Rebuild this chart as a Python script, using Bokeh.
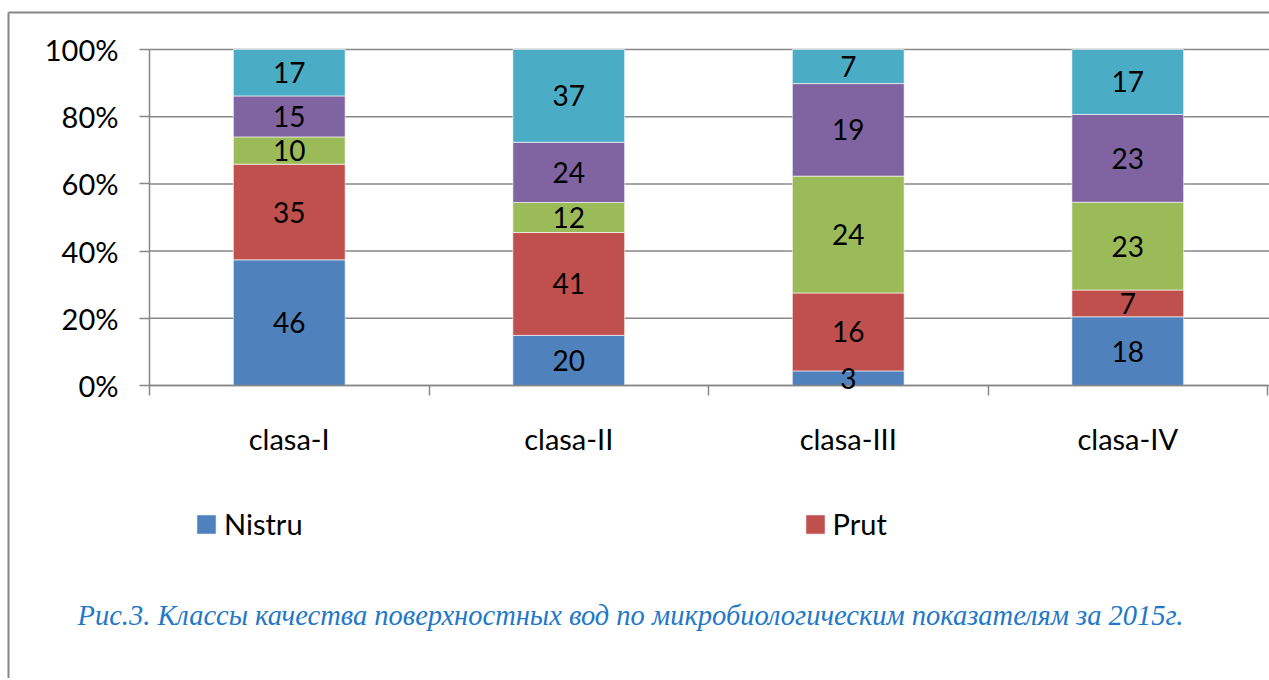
import numpy as np
from bokeh.plotting import figure
from bokeh.core.properties import value
from bokeh.models import (ColumnDataSource, LabelSet, Label, Legend, LegendItem,
                          FixedTicker, NumeralTickFormatter, Range1d)
from bokeh.embed import file_html
from bokeh.resources import INLINE

# ---- data ----
categories = ["clasa-I", "clasa-II", "clasa-III", "clasa-IV"]
nistru = [46, 20, 3, 18]
prut = [35, 41, 16, 7]
seria3 = [10, 12, 24, 23]
seria4 = [15, 24, 19, 23]
seria5 = [17, 37, 7, 17]
series_names = ["Nistru", "Prut", "Seria 3", "Seria 4", "Seria 5"]
colors = ["#4F81BD", "#C0504D", "#9BBB59", "#8064A2", "#4BACC6"]
y_ticks = [0, 0.2, 0.4, 0.6, 0.8, 1.0]
caption = "Рис.3. Классы качества поверхностных вод по микробиологическим показателям за 2015г."

FONT = "Lato"
GRID = "#878787"
FRAME = "#868686"

# ---- layout (canvas pixels, canvas = page) ----
CANVAS_W, CANVAS_H = 1269, 678
PLOT_L, PLOT_R, PLOT_T, PLOT_B = 149, 1267, 49, 385
BOX_X, BOX_Y = 8, 12          # outer chart-area border (left / top)

ncat = len(categories)
ppx = (PLOT_R - PLOT_L) / ncat
ppy = PLOT_B - PLOT_T
x_start = -PLOT_L / ppx
x_end = ncat + (CANVAS_W - PLOT_R) / ppx
y_start = -(CANVAS_H - PLOT_B) / ppy
y_end = 1 + PLOT_T / ppy
box_x = (BOX_X - PLOT_L) / ppx
box_y = 1 + (PLOT_T - BOX_Y) / ppy

series = [nistru, prut, seria3, seria4, seria5]
vals = np.array(series, dtype=float)
totals = vals.sum(axis=0)
fracs = vals / totals
tops = np.cumsum(fracs, axis=0)
bottoms = tops - fracs
xs = np.arange(ncat) + 0.5

p = figure(width=CANVAS_W, height=CANVAS_H, output_backend="svg", toolbar_location=None,
           x_range=Range1d(x_start, x_end), y_range=Range1d(y_start, y_end),
           min_border=0, min_border_left=0, min_border_right=0,
           min_border_top=0, min_border_bottom=0)
p.outline_line_color = None
p.background_fill_color = "white"
p.border_fill_color = "white"
p.xgrid.visible = False
p.ygrid.visible = False

# outer chart-area border (left and top edges visible)
p.segment(x0=[box_x, box_x], y0=[y_start, box_y], x1=[box_x, x_end], y1=[box_y, box_y],
          line_color=FRAME, line_width=2)

# horizontal gridlines from the value axis to the right edge
p.segment(x0=[0] * len(y_ticks), x1=[x_end] * len(y_ticks), y0=y_ticks, y1=y_ticks,
          line_color=GRID, line_width=1.5)

renderers = []
for i, name in enumerate(series_names):
    src = ColumnDataSource(dict(x=xs, top=tops[i], bottom=bottoms[i],
                                mid=(tops[i] + bottoms[i]) / 2,
                                txt=[str(v) for v in series[i]]))
    r = p.vbar(x="x", width=0.4, top="top", bottom="bottom", source=src,
               fill_color=colors[i], line_color="white", line_alpha=0.6, line_width=1)
    renderers.append(r)
    labels = LabelSet(x="x", y="mid", text="txt", source=src, text_align="center",
                      text_baseline="middle", text_font=value(FONT),
                      text_font_size="28px", text_color="black")
    p.add_layout(labels)

# value axis
ya = p.yaxis[0]
ya.fixed_location = 0
ya.bounds = (0, 1)
ya.ticker = FixedTicker(ticks=y_ticks)
ya.formatter = NumeralTickFormatter(format="0%")
ya.major_label_text_font = FONT
ya.major_label_text_font_size = "29px"
ya.major_label_text_color = "black"
ya.major_tick_out = 10
ya.major_tick_in = 0
ya.minor_tick_line_color = None
ya.major_tick_line_color = GRID
ya.major_tick_line_width = 1.5
ya.axis_line_color = GRID
ya.axis_line_width = 1.5
ya.major_label_standoff = 21

# category axis
xa = p.xaxis[0]
xa.fixed_location = 0
xa.bounds = (0, ncat)
xa.ticker = FixedTicker(ticks=list(xs), minor_ticks=list(range(ncat + 1)))
xa.major_label_overrides = {float(x): c for x, c in zip(xs, categories)}
xa.major_label_text_font = FONT
xa.major_label_text_font_size = "29px"
xa.major_label_text_color = "black"
xa.major_tick_out = 0
xa.major_tick_in = 0
xa.minor_tick_out = 10
xa.minor_tick_in = 0
xa.minor_tick_line_color = GRID
xa.minor_tick_line_width = 1.5
xa.axis_line_color = GRID
xa.axis_line_width = 1.5
xa.major_label_standoff = 25

legend = Legend(items=[LegendItem(label=series_names[0], renderers=[renderers[0]]),
                       LegendItem(label=series_names[1], renderers=[renderers[1]])],
                location=(194, 137), orientation="horizontal", spacing=500,
                glyph_width=24, glyph_height=24, label_standoff=6,
                label_text_font=FONT, label_text_font_size="29px",
                label_text_color="black", padding=0, margin=0,
                border_line_color=None, background_fill_alpha=0)
p.add_layout(legend, "center")

cap = Label(x=77, y=CANVAS_H - 615, x_units="screen", y_units="screen", text=caption,
            text_font="Liberation Serif", text_font_style="italic",
            text_font_size="28.5px", text_color="#1F78C8",
            text_baseline="alphabetic", text_align="left")
p.add_layout(cap)

open("out.html", "w").write(file_html(p, INLINE))
